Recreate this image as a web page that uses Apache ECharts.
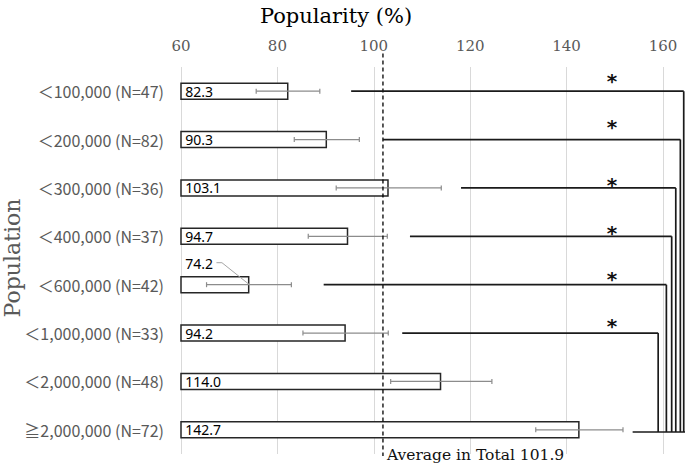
<!DOCTYPE html>
<html>
<head>
<meta charset="utf-8">
<script src="https://cdn.jsdelivr.net/npm/echarts@6.0.0/dist/echarts.min.js"></script>
<style>
html,body{margin:0;padding:0;background:#fff;}
#chart{width:685px;height:463px;}
</style>
</head>
<body>
<div id="chart"></div>
<script>
// ---- data ----
const categories = ['＜100,000 (N=47)', '＜200,000 (N=82)', '＜300,000 (N=36)', '＜400,000 (N=37)', '＜600,000 (N=42)', '＜1,000,000 (N=33)', '＜2,000,000 (N=48)', '≧2,000,000 (N=72)'];
const popularity = [82.3, 90.3, 103.1, 94.7, 74.2, 94.2, 114.0, 142.7];
const errLow = [75.6, 83.5, 92.2, 86.4, 65.3, 85.3, 103.5, 133.6];
const errHigh = [88.8, 97.0, 114.0, 102.8, 82.9, 103.0, 124.5, 151.7];
const averageTotal = 101.9;
const xTicks = [60, 80, 100, 120, 140, 160];
// significance brackets: compared rows vs. the last row (≧2,000,000)
const sigRows = [0, 1, 2, 3, 4, 5];
const sigStart = [95.3, 101.9, 118.1, 107.5, 89.6, 105.9];
const sigBracket = [164.3, 163.6, 162.65, 161.8, 160.7, 159.0];
const refRow = 7;
const refStart = 153.7;
const refEnd = 164.6;
const starValue = 149.4;
const calloutIndex = 4;

// ---- layout / style ----
const starDy = [-12.5, -15.2, -5.3, -6, -7.7, -10];
const serif = 'DejaVu Serif';
const gray = '#595959';

const chart = echarts.init(document.getElementById('chart'), null, {renderer: 'svg'});

const barData = popularity.map((v, i) => {
  if (i === calloutIndex) {
    return {value: v, label: {offset: [0, -21]}};
  }
  return v;
});

const option = {
  animation: false,
  backgroundColor: '#fff',
  grid: {left: 181, right: 22, top: 67, bottom: 9, containLabel: false, outerBoundsMode: 'none'},
  graphic: [
    {type: 'text', x: 336, y: 16, style: {text: 'Popularity (%)', font: '21px "' + serif + '"', fill: '#000', align: 'center', verticalAlign: 'middle'}},
    {type: 'text', x: 12, y: 258, rotation: Math.PI / 2, style: {text: 'Population', font: '22px "' + serif + '"', fill: gray, align: 'center', verticalAlign: 'middle'}}
  ],
  xAxis: {
    type: 'value', position: 'top',
    min: xTicks[0], max: xTicks[xTicks.length - 1], interval: xTicks[1] - xTicks[0],
    axisLine: {show: false}, axisTick: {show: false},
    axisLabel: {color: gray, fontFamily: serif, fontSize: 15, margin: 14},
    splitLine: {show: true, lineStyle: {color: '#d9d9d9', width: 1}}
  },
  yAxis: {
    type: 'category', inverse: true, data: categories,
    axisLine: {show: false}, axisTick: {show: false},
    axisLabel: {color: gray, fontFamily: 'Noto Sans CJK JP', fontSize: 16, margin: 17}
  },
  series: [
    {
      type: 'bar', data: barData, barWidth: '36%',
      itemStyle: {color: '#fff', borderColor: '#262626', borderWidth: 1.5},
      label: {show: true, position: 'insideLeft', distance: 5, color: '#000', fontFamily: 'Noto Sans', fontSize: 14,
        formatter: p => Number(p.value).toFixed(1)},
      z: 2
    },
    {
      type: 'custom', clip: false, z: 3,
      data: popularity.map((v, i) => [i, errLow[i], errHigh[i]]),
      encode: {x: [1, 2], y: 0},
      renderItem: function (params, api) {
        const r = api.value(0);
        const lo = api.coord([api.value(1), r]);
        const hi = api.coord([api.value(2), r]);
        const st = {stroke: '#8c8c8c', lineWidth: 1.2};
        const h = 2.5;
        return {type: 'group', children: [
          {type: 'line', shape: {x1: lo[0], y1: lo[1], x2: hi[0], y2: hi[1]}, style: st},
          {type: 'line', shape: {x1: lo[0], y1: lo[1] - h, x2: lo[0], y2: lo[1] + h}, style: st},
          {type: 'line', shape: {x1: hi[0], y1: hi[1] - h, x2: hi[0], y2: hi[1] + h}, style: st}
        ]};
      }
    },
    {
      // callout leader line for the moved label
      type: 'custom', clip: false, z: 3,
      data: [[calloutIndex, popularity[calloutIndex]]],
      encode: {x: 1, y: 0},
      renderItem: function (params, api) {
        const p = api.coord([api.value(1), api.value(0)]);
        return {type: 'polyline', shape: {points: [[p[0] - 33, p[1] - 22], [p[0] - 27.5, p[1] - 22], [p[0], p[1]]]},
          style: {stroke: '#a6a6a6', lineWidth: 1, fill: null}};
      }
    },
    {
      // average line
      type: 'custom', clip: false, z: 4,
      data: [[averageTotal]],
      encode: {x: 0},
      renderItem: function (params, api) {
        const v = api.value(0);
        const p0 = api.coord([v, 0]);
        const p7 = api.coord([v, categories.length - 1]);
        const band = api.size([0, 1])[1];
        const top = p0[1] - band / 2 - 13.5;
        const bottom = p7[1] + band / 2 + 2;
        return {type: 'group', children: [
          {type: 'line', shape: {x1: p0[0], y1: top, x2: p0[0], y2: bottom},
            style: {stroke: '#000', lineWidth: 1.3, lineDash: [4, 3]}},
          {type: 'text', style: {text: 'Average in Total ' + v.toFixed(1), x: p0[0] + 4, y: bottom - 1.5,
            font: '15.5px "' + serif + '"', fill: '#111', align: 'left', verticalAlign: 'middle'}}
        ]};
      }
    },
    {
      // significance brackets
      type: 'custom', clip: false, z: 4,
      data: sigRows.map((r, i) => [r, sigStart[i], sigBracket[i]]),
      encode: {x: [1, 2], y: 0},
      renderItem: function (params, api) {
        const r = api.value(0);
        const a = api.coord([api.value(1), r]);
        const b = api.coord([api.value(2), r]);
        const bottomY = api.coord([api.value(2), refRow])[1] + 2.2;
        const s = api.coord([starValue, r]);
        const st = {stroke: '#1a1a1a', lineWidth: 1.7};
        return {type: 'group', children: [
          {type: 'line', shape: {x1: a[0], y1: a[1], x2: b[0], y2: b[1]}, style: st},
          {type: 'line', shape: {x1: b[0], y1: b[1], x2: b[0], y2: bottomY}, style: st},
          {type: 'text', style: {text: '*', x: s[0], y: s[1] + starDy[params.dataIndex] + 2.5,
            font: 'bold 20px "DejaVu Sans"', fill: '#111', align: 'center', verticalAlign: 'middle'}}
        ]};
      }
    },
    {
      type: 'custom', clip: false, z: 4,
      data: [[refRow, refStart, refEnd]],
      encode: {x: [1, 2], y: 0},
      renderItem: function (params, api) {
        const r = api.value(0);
        const a = api.coord([api.value(1), r]);
        const b = api.coord([api.value(2), r]);
        return {type: 'line', shape: {x1: a[0], y1: a[1] + 2.2, x2: b[0], y2: b[1] + 2.2},
          style: {stroke: '#1a1a1a', lineWidth: 1.7}};
      }
    }
  ]
};
chart.setOption(option);
</script>
</body>
</html>
